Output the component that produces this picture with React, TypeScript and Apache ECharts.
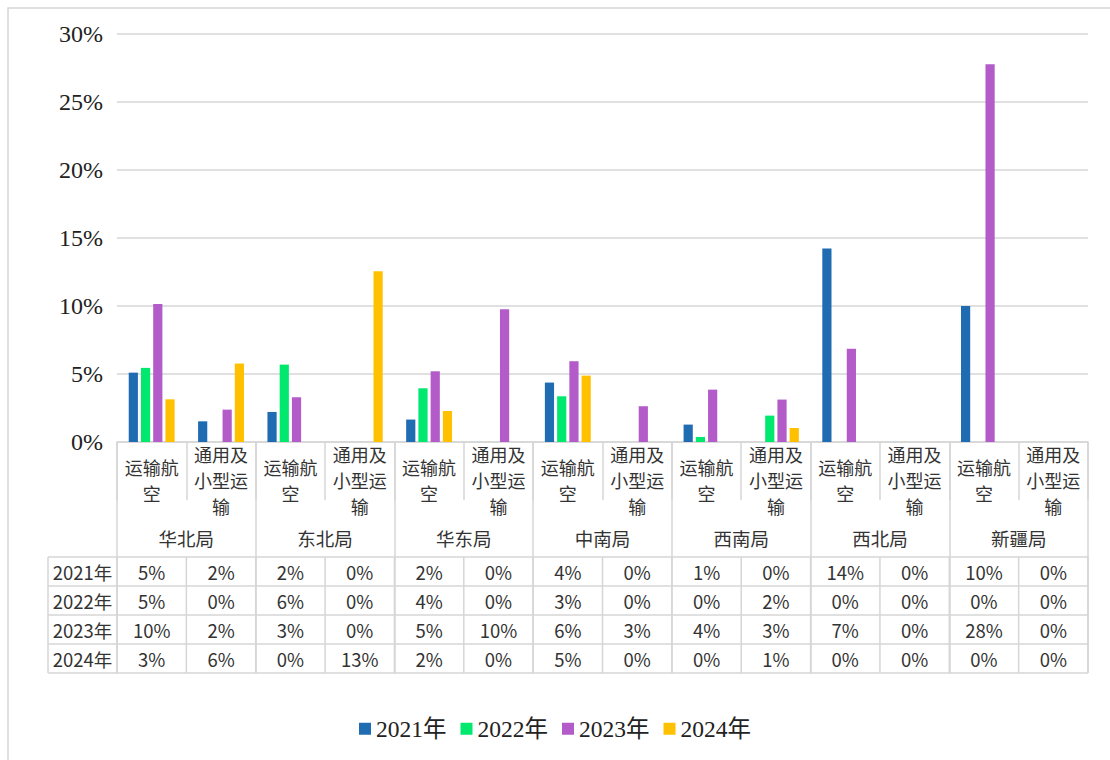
import React, { useEffect, useRef } from "react";
import * as echarts from "echarts";

const regions = ["华北局", "东北局", "华东局", "中南局", "西南局", "西北局", "新疆局"];
const subTypes = ["运输航空", "通用及小型运输"];
const years = ["2021年", "2022年", "2023年", "2024年"];
const s2021 = [5.1, 1.52, 2.21, 0, 1.65, 0, 4.37, 0, 1.28, 0, 14.23, 0, 10.0, 0];
const s2022 = [5.45, 0, 5.69, 0, 3.95, 0, 3.36, 0, 0.37, 1.94, 0, 0, 0, 0];
const s2023 = [10.15, 2.38, 3.29, 0, 5.2, 9.77, 5.94, 2.63, 3.85, 3.12, 6.85, 0, 27.77, 0];
const s2024 = [3.14, 5.77, 0, 12.55, 2.28, 0, 4.88, 0, 0, 1.03, 0, 0, 0, 0];
const colors = ["#1F6CB2", "#00E86E", "#B25BC9", "#FFC000"];

const seriesData = [s2021, s2022, s2023, s2024];
const categories: string[] = [];
regions.forEach((r) => subTypes.forEach((s) => categories.push(r + "|" + s)));

const wrap3 = (s: string) => {
  const parts: string[] = [];
  for (let i = 0; i < s.length; i += 3) parts.push(s.slice(i, i + 3));
  return parts.join("\n");
};

const SERIF = '"Liberation Serif", "Times New Roman", "Noto Sans CJK SC", serif';
const SANS = '"Noto Sans CJK SC", "Noto Sans", sans-serif';
const GRID_TOP = 34;
const AXIS_Y = 442;
const TABLE_LINES = [557, 586, 615, 644, 673];
const TABLE_LEFT = 48;
const LINE_COLOR = "#d6d6d6";
const TEXT_COLOR = "#333333";

export default function App() {
  const ref = useRef<HTMLDivElement>(null);
  useEffect(() => {
    if (!ref.current) return;
    const chart = echarts.init(ref.current, null, { renderer: "svg" });
    chart.setOption({
      animation: false,
      color: colors,
      grid: { left: 117, right: 22, top: GRID_TOP, bottom: 760 - AXIS_Y, containLabel: false },
      legend: {
        data: years,
        left: "center",
        top: 712,
        icon: "rect",
        itemWidth: 12,
        itemHeight: 12,
        itemGap: 14,
        textStyle: { fontFamily: SERIF, fontSize: 23.5, color: "#222" },
      },
      xAxis: [
        {
          type: "category",
          data: categories,
          position: "bottom",
          offset: 0,
          axisLine: { show: true, lineStyle: { color: LINE_COLOR, width: 1.5 } },
          axisTick: { show: true, length: 58, lineStyle: { color: LINE_COLOR, width: 1.5 } },
          axisLabel: {
            interval: 0,
            formatter: (v: string) => wrap3(v.split("|")[1]),
            fontFamily: SANS,
            fontSize: 18,
            lineHeight: 26,
            color: TEXT_COLOR,
            verticalAlign: "middle",
            margin: 38,
          },
        },
        {
          type: "category",
          data: regions,
          position: "bottom",
          offset: 0,
          axisLine: { show: false },
          axisTick: { show: true, length: TABLE_LINES[4] - AXIS_Y, lineStyle: { color: LINE_COLOR, width: 1.5 } },
          axisLabel: {
            interval: 0,
            fontFamily: SANS,
            fontSize: 18.5,
            color: TEXT_COLOR,
            verticalAlign: "middle",
            margin: 96,
          },
        },
      ],
      yAxis: {
        type: "value",
        min: 0,
        max: 30,
        interval: 5,
        axisLine: { show: false },
        axisTick: { show: false },
        splitLine: { lineStyle: { color: LINE_COLOR, width: 1.5 } },
        axisLabel: {
          formatter: "{value}%",
          fontFamily: SERIF,
          fontSize: 24,
          color: "#222",
          margin: 14,
        },
      },
      series: years.map((y, i) => ({
        name: y,
        type: "bar",
        xAxisIndex: 0,
        data: seriesData[i],
        barWidth: 9.2,
        barGap: "33%",
      })),
    });

    const c0 = chart.convertToPixel({ xAxisIndex: 0 }, 0) as number;
    const c1 = chart.convertToPixel({ xAxisIndex: 0 }, 1) as number;
    const w = c1 - c0;
    const bounds = categories.map((_, i) => c0 - w / 2 + i * w);
    bounds.push(c0 - w / 2 + categories.length * w);
    const right = bounds[bounds.length - 1];
    const graphics: any[] = [];
    graphics.push({
      type: "rect",
      shape: { x: 8, y: 8, width: 1200, height: 800 },
      style: { fill: "none", stroke: LINE_COLOR, lineWidth: 1.5 },
      silent: true,
    });
    TABLE_LINES.forEach((y) => {
      graphics.push({
        type: "line",
        shape: { x1: TABLE_LEFT, y1: y, x2: right, y2: y },
        style: { stroke: LINE_COLOR, lineWidth: 1.5 },
      });
    });
    [TABLE_LEFT, ...bounds].forEach((x) => {
      graphics.push({
        type: "line",
        shape: { x1: x, y1: TABLE_LINES[0], x2: x, y2: TABLE_LINES[4] },
        style: { stroke: LINE_COLOR, lineWidth: 1.5 },
      });
    });
    years.forEach((yr, r) => {
      const cy = (TABLE_LINES[r] + TABLE_LINES[r + 1]) / 2;
      graphics.push({
        type: "text",
        x: (TABLE_LEFT + bounds[0]) / 2,
        y: cy,
        style: {
          text: yr,
          fontFamily: SANS,
          fontSize: 18.5,
          fill: TEXT_COLOR,
          align: "center",
          verticalAlign: "middle",
        },
      });
      seriesData[r].forEach((v, i) => {
        graphics.push({
          type: "text",
          x: chart.convertToPixel({ xAxisIndex: 0 }, i) as number,
          y: cy,
          style: {
            text: Math.round(v) + "%",
            fontFamily: SANS,
            fontSize: 18.5,
            fill: TEXT_COLOR,
            align: "center",
            verticalAlign: "middle",
          },
        });
      });
    });
    chart.setOption({ graphic: graphics });
    return () => chart.dispose();
  }, []);
  return (
    <div
      ref={ref}
      style={{ position: "fixed", left: 0, top: 0, width: 1110, height: 760, background: "#fff" }}
    />
  );
}
